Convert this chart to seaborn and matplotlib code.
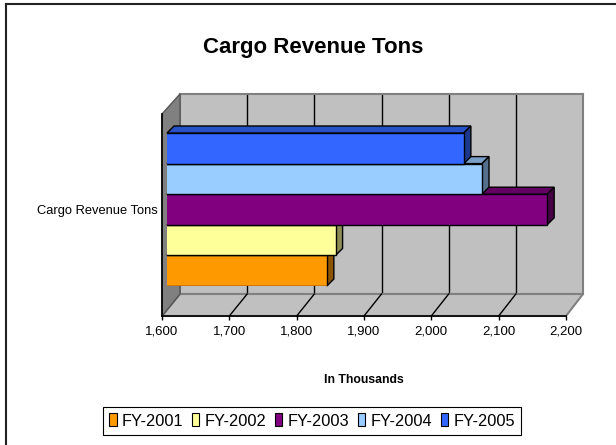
import matplotlib
matplotlib.use("Agg")
import matplotlib.pyplot as plt
from matplotlib.patches import Polygon, Patch
from matplotlib.lines import Line2D
import numpy as np
import pandas as pd
import seaborn as sns

# ---- data ----
years = ["FY-2001", "FY-2002", "FY-2003", "FY-2004", "FY-2005"]
values = [1838, 1851, 2166, 2069, 2042]
category = ["Cargo Revenue Tons"]
colors = ["#FF9900", "#FFFF99", "#800080", "#99CCFF", "#3366FF"]
xticks = [1600, 1700, 1800, 1900, 2000, 2100, 2200]
title = "Cargo Revenue Tons"
xlabel = "In Thousands"

plt.rcParams["font.family"] = ["Liberation Sans", "DejaVu Sans"]

W, H = 616, 445
fig = plt.figure(figsize=(W / 100, H / 100), dpi=100)
fig.patch.set_facecolor("white")


def rect(x0, y0, x1, y1):
    """pixel box (y downward) -> figure fraction rect"""
    return [x0 / W, 1 - y1 / H, (x1 - x0) / W, (y1 - y0) / H]


to_fig = fig.transFigure.inverted()

# ---- back wall ----
ax_back = fig.add_axes(rect(180, 94, 583, 294))
ax_back.set_zorder(0)
ax_back.set_facecolor("#C0C0C0")
ax_back.set_xlim(xticks[0], xticks[-1])
ax_back.set_ylim(0, 1)
for v in xticks[1:-1]:
    ax_back.axvline(v, color="black", lw=1.0)
for s in ax_back.spines.values():
    s.set_color("#808080")
    s.set_linewidth(1.5)
ax_back.set_xticks([])
ax_back.set_yticks([])

# ---- front plane axes (axis lines + tick labels) ----
ax_front = fig.add_axes(rect(162, 114, 566, 316))
ax_front.set_zorder(1)
ax_front.patch.set_alpha(0)
ax_front.set_xlim(xticks[0], xticks[-1])
ax_front.set_ylim(0, 1)
ax_front.set_xticks(xticks)
ax_front.set_xticklabels([f"{v:,}" for v in xticks], fontsize=9.5)
ax_front.set_yticks([])
ax_front.tick_params(axis="x", direction="out", length=3, width=1, pad=4, color="black")
for side in ["top", "right"]:
    ax_front.spines[side].set_visible(False)
for side in ["left", "bottom"]:
    ax_front.spines[side].set_color("black")
    ax_front.spines[side].set_linewidth(1.2)
ax_front.set_xlabel(xlabel, fontsize=8.8, fontweight="bold", labelpad=26)

# ---- floor and left wall (from the two planes' transforms) ----
def disp(ax, x, y):
    return ax.transData.transform((x, y))

fl = disp(ax_front, xticks[0], 0)
fr = disp(ax_front, xticks[-1], 0)
ftl = disp(ax_front, xticks[0], 1)
bl = disp(ax_back, xticks[0], 0)
br = disp(ax_back, xticks[-1], 0)
btl = disp(ax_back, xticks[0], 1)

floor = Polygon(to_fig.transform([fl, fr, br, bl]), closed=True, transform=fig.transFigure,
                facecolor="#C0C0C0", edgecolor="#808080", lw=1.5, zorder=0.5)
fig.add_artist(floor)
for v in xticks[1:-1]:
    p0 = to_fig.transform(disp(ax_front, v, 0))
    p1 = to_fig.transform(disp(ax_back, v, 0))
    fig.add_artist(Line2D([p0[0], p1[0]], [p0[1], p1[1]], transform=fig.transFigure,
                          color="black", lw=1.0, zorder=0.6))
wall = Polygon(to_fig.transform([fl, ftl, btl, bl]), closed=True, transform=fig.transFigure,
               facecolor="#808080", edgecolor="#555555", lw=1.0, zorder=0.5)
fig.add_artist(wall)

# ---- bars ----
df = pd.DataFrame({"category": category * len(years), "year": years, "value": values})
ax_bars = fig.add_axes(rect(167, 133, 570, 286))
ax_bars.set_zorder(2)
ax_bars.patch.set_alpha(0)
sns.barplot(data=df, x="value", y="category", hue="year", hue_order=years[::-1],
            palette=dict(zip(years, colors)), orient="h", width=1.0, saturation=1,
            edgecolor="black", linewidth=1.0, legend=False, ax=ax_bars)
ax_bars.set_xlim(xticks[0], xticks[-1])
ax_bars.set_ylim(0.5, -0.5)
ax_bars.set_xticks([])
ax_bars.set_xlabel("")
ax_bars.set_ylabel("")
ax_bars.tick_params(axis="y", length=0, pad=7, labelsize=9.3)
for s in ax_bars.spines.values():
    s.set_visible(False)


def shade(c, f):
    r, g, b = matplotlib.colors.to_rgb(c)
    return (r * f, g * f, b * f)


d = 7.0  # extrusion depth in pixels
bars = [p for p in ax_bars.patches if p.get_width() > 0]
bars.sort(key=lambda p: -p.get_y())  # bottom (largest y, inverted) first
for i, p in enumerate(bars):
    z = 3 + i
    p.set_zorder(z)
    x0 = max(p.get_x(), xticks[0])
    x1 = p.get_x() + p.get_width()
    ya, yb = p.get_y(), p.get_y() + p.get_height()
    a = disp(ax_bars, x0, ya)
    b = disp(ax_bars, x1, ya)
    c = disp(ax_bars, x1, yb)
    top_y = max(a[1], c[1])
    bot_y = min(a[1], c[1])
    fc = p.get_facecolor()
    top = [(a[0], top_y), (b[0], top_y), (b[0] + d, top_y + d), (a[0] + d, top_y + d)]
    side = [(b[0], top_y), (b[0], bot_y), (b[0] + d, bot_y + d), (b[0] + d, top_y + d)]
    for pts, f in [(top, 0.78), (side, 0.55)]:
        poly = Polygon(to_fig.transform(pts), closed=True, transform=fig.transFigure,
                       facecolor=shade(fc, f), edgecolor="black", lw=1.0,
                       clip_on=False, zorder=z - 0.1)
        ax_bars.add_artist(poly)

# ---- title ----
fig.text(313 / W, 1 - 53 / H, title, ha="center", va="baseline",
         fontsize=16, fontweight="bold")

# ---- legend ----
handles = [Patch(facecolor=c, edgecolor="black", lw=0.8) for c in colors]
leg = fig.legend(handles, years, loc="center", bbox_to_anchor=(312 / W, 1 - 421 / H),
                 ncol=5, fontsize=11.8, frameon=True, fancybox=False, framealpha=1,
                 edgecolor="black", handlelength=0.45, handleheight=0.85,
                 handletextpad=0.3, columnspacing=0.55, borderpad=0.4,
                 borderaxespad=0)
leg.get_frame().set_linewidth(0.8)

# ---- outer chart border (left and top visible) ----
fig.add_artist(Line2D([6 / W, 6 / W], [0, 1 - 4 / H], transform=fig.transFigure,
                      color="#222222", lw=1.5, zorder=10))
fig.add_artist(Line2D([6 / W, 1], [1 - 4 / H, 1 - 4 / H], transform=fig.transFigure,
                      color="#222222", lw=1.5, zorder=10))

fig.savefig("out.png", dpi=100)
